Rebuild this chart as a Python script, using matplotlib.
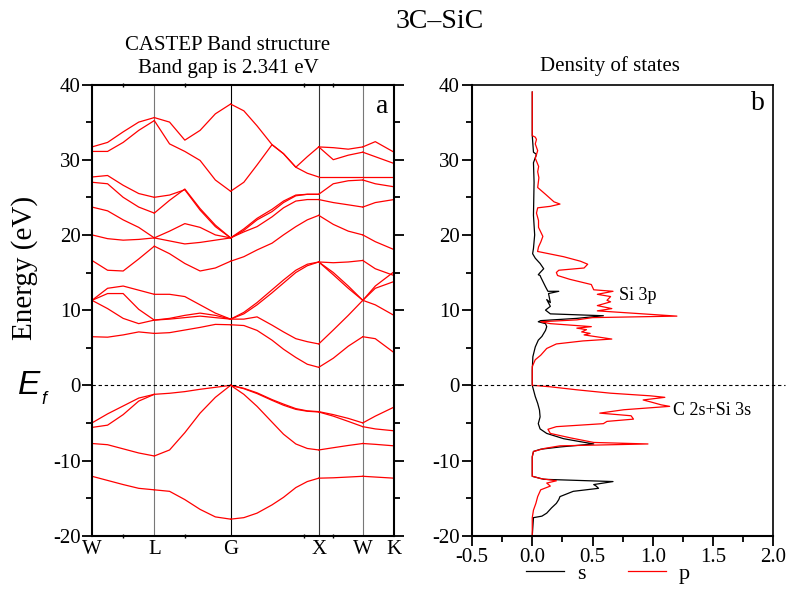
import numpy as np
import matplotlib
matplotlib.use("Agg")
import matplotlib.pyplot as plt
from matplotlib.ticker import MultipleLocator, FixedLocator

plt.rcParams['font.family'] = ['Liberation Serif', 'DejaVu Serif']
plt.rcParams['axes.unicode_minus'] = False

# high symmetry path W-L-G-X-W-K (distances in 2pi/a)
sym_labels = ['W', 'L', 'G', 'X', 'W', 'K']
sym_pos = [0.0, 0.707, 1.573, 2.573, 3.073, 3.427]

# bands read segment by segment: fractions along the segment, then one list per line
frac_WL = [0, .25, .5, .75, 1]
bands_WL = [
    [-12.1, -12.65, -13.2, -13.7, -13.9],
    [-7.74, -7.9, -8.45, -9.0, -9.4],
    [-5.0, -3.8, -2.75, -1.7, -1.2],
    [-5.6, -5.3, -3.9, -2.1, -1.2],
    [6.46, 6.4, 6.7, 7.1, 6.9],
    [11.3, 10.2, 8.9, 8.2, 8.67],
    [11.3, 12.2, 12.2, 10.1, 8.67],
    [11.3, 12.9, 13.2, 12.65, 12.1],
    [16.6, 15.3, 15.2, 16.8, 18.5],
    [20.0, 19.5, 19.3, 19.4, 19.6],
    [23.7, 23.2, 22.0, 21.0, 19.6],
    [27.0, 26.8, 25.0, 23.7, 22.9],
    [27.7, 27.9, 26.6, 25.5, 25.0],
    [31.1, 31.1, 32.3, 33.9, 35.2],
    [31.7, 32.3, 33.7, 35.0, 35.6],
]
frac_LG = [0, .2, .4, .6, .8, 1]
bands_LG = [
    [-13.9, -14.1, -15.2, -16.5, -17.5, -17.8],
    [-9.4, -8.6, -6.3, -3.7, -1.6, 0.0],
    [-1.2, -1.06, -0.84, -0.53, -0.27, 0.0],
    [6.9, 7.0, 7.35, 7.7, 8.1, 8.05],
    [8.67, 8.9, 9.3, 9.6, 9.3, 8.8],
    [8.67, 8.8, 9.0, 9.2, 9.0, 8.8],
    [12.1, 12.1, 11.8, 10.7, 9.6, 8.8],
    [18.5, 17.5, 16.2, 15.2, 15.6, 16.5],
    [19.6, 19.2, 18.8, 19.0, 19.3, 19.6],
    [19.6, 20.5, 21.5, 21.0, 20.0, 19.6],
    [22.9, 24.6, 26.1, 23.5, 21.3, 19.6],
    [25.0, 25.3, 26.0, 23.3, 21.1, 19.6],
    [35.2, 32.1, 31.1, 29.9, 27.3, 25.8],
    [35.6, 35.0, 32.6, 33.9, 36.1, 37.4],
]
frac_GX = [0, .15, .3, .47, .6, .74, .87, 1]
bands_GX = [
    [-17.8, -17.6, -17.0, -15.9, -14.9, -13.6, -12.8, -12.35],
    [0.0, -1.2, -2.8, -4.9, -6.5, -7.8, -8.4, -8.6],
    [0.0, -0.4, -1.0, -1.9, -2.5, -3.1, -3.4, -3.5],
    [0.0, -0.45, -1.1, -2.0, -2.65, -3.2, -3.45, -3.55],
    [8.05, 7.95, 7.3, 6.0, 4.8, 3.7, 2.8, 2.39],
    [8.8, 8.8, 9.1, 8.0, 7.1, 6.2, 5.8, 5.5],
    [8.8, 9.5, 10.7, 12.3, 13.6, 15.0, 15.9, 16.4],
    [8.8, 9.7, 11.0, 12.7, 14.0, 15.3, 16.1, 16.4],
    [16.5, 17.1, 18.0, 18.9, 20.0, 21.1, 22.0, 22.6],
    [19.6, 20.4, 21.1, 22.4, 23.6, 24.5, 24.7, 24.7],
    [19.6, 20.6, 22.0, 23.1, 24.3, 25.2, 25.4, 25.4],
    [19.6, 20.8, 22.2, 23.4, 24.5, 25.3, 25.4, 25.4],
    [25.8, 27.0, 29.3, 32.0, 30.8, 29.0, 28.2, 27.7],
    [37.4, 36.5, 34.5, 32.0, 30.8, 29.0, 30.4, 31.7],
]
frac_XW = [0, .33, .67, 1]
bands_XW = [
    [-12.35, -12.3, -12.2, -12.1],
    [-8.6, -8.3, -8.0, -7.74],
    [-3.5, -3.9, -4.4, -5.0],
    [-3.55, -4.1, -4.8, -5.5],
    [2.39, 3.6, 5.2, 6.46],
    [5.5, 7.35, 9.3, 11.3],
    [16.4, 14.7, 12.9, 11.3],
    [16.4, 15.0, 13.2, 11.3],
    [16.4, 16.3, 16.4, 16.6],
    [22.6, 21.4, 20.5, 20.0],
    [24.7, 24.3, 24.0, 23.7],
    [25.4, 26.8, 27.2, 27.3],
    [27.7, 27.7, 27.7, 27.7],
    [31.7, 30.0, 30.6, 31.0],
    [31.7, 31.6, 31.4, 31.7],
]
frac_WK = [0, .4, 1]
bands_WK = [
    [-12.1, -12.2, -12.35],
    [-7.74, -7.85, -8.05],
    [-5.0, -4.1, -2.9],
    [-5.5, -5.8, -6.05],
    [6.46, 6.2, 4.35],
    [11.3, 10.7, 9.3],
    [11.3, 12.9, 13.8],
    [11.3, 13.2, 15.1],
    [16.6, 15.5, 14.6],
    [20.0, 19.1, 18.05],
    [23.7, 24.3, 24.7],
    [27.3, 26.8, 26.4],
    [27.7, 27.7, 27.7],
    [31.0, 30.4, 29.5],
    [31.7, 32.4, 31.0],
]
segments = [(frac_WL, bands_WL), (frac_LG, bands_LG), (frac_GX, bands_GX),
            (frac_XW, bands_XW), (frac_WK, bands_WK)]

# partial DOS (energy in eV, states/eV)
s_E = [39.0, 33.2, 31.0, 30.7, 29.6, 27.0, 22.6, 20.0, 18.2, 17.5, 16.9, 16.2, 15.5, 14.9, 14.7, 14.6, 14.4, 13.1, 12.5, 12.5, 12.2, 11.0, 11.4,
       10.5, 10.0, 9.5, 9.25, 8.9, 8.6, 8.45, 8.2, 7.8, 7.3, 6.9, 6.5, 6.0, 5.1, 3.8, 2.0, 0.0, -1.5, -2.4, -3.3, -4.2, -5.1, -5.8, -6.4,
       -7.1, -7.5, -7.8, -8.2, -8.5, -8.8, -9.5, -12.1, -12.5, -12.8, -13.2, -13.4, -13.7, -14.1, -14.8, -15.2, -15.7, -16.3, -17.0, -17.4, -17.6, -20.0]
s_v = [0.0, 0.0, 0.01, 0.035, 0.01, 0.015, 0.01, 0.02, 0.01, 0.003, 0.025, 0.065, 0.095, 0.06, 0.05, 0.065, 0.07, 0.11, 0.13, 0.22, 0.135, 0.15, 0.12,
       0.15, 0.11, 0.15, 0.59, 0.37, 0.07, 0.05, 0.11, 0.12, 0.11, 0.095, 0.08, 0.05, 0.025, 0.005, 0.0, 0.0, 0.025, 0.045, 0.06, 0.065, 0.05, 0.065, 0.12,
       0.26, 0.4, 0.51, 0.23, 0.07, 0.01, 0.0, 0.0, 0.095, 0.67, 0.51, 0.53, 0.55, 0.34, 0.23, 0.22, 0.2, 0.16, 0.12, 0.08, 0.01, 0.0]
p_E = [39.0, 33.2, 33.0, 32.7, 32.1, 31.2, 30.2, 29.1, 28.4, 27.6, 26.3, 25.4, 24.4, 24.1, 23.8, 23.6, 22.9, 21.9, 21.0, 19.8, 19.1, 18.4,
       17.8, 17.1, 16.5, 16.1, 15.6, 15.3, 15.0, 14.6, 14.1, 13.4, 12.7, 12.5, 12.1, 11.8, 11.3, 11.1, 10.6, 10.2, 9.9, 9.2, 9.0, 8.7, 8.45,
       8.2, 7.8, 7.6, 7.4, 7.1, 6.9, 6.7, 6.15, 5.9, 5.5, 4.9, 4.0, 3.4, 2.5, 0.0, -0.2, -0.6, -1.05, -1.4, -1.6, -1.95, -2.2, -2.6, -2.8,
       -3.25, -3.7, -4.05, -4.5, -4.8, -5.1, -5.5, -5.85, -6.4, -7.0, -7.6, -7.8, -8.05, -8.4, -8.8, -9.5, -12.1, -12.4, -12.7, -13.0, -13.4, -13.9,
       -14.8, -15.7, -16.6, -17.6, -20.0]
p_v = [0.0, 0.0, 0.025, 0.035, 0.025, 0.045, 0.025, 0.053, 0.045, 0.055, 0.045, 0.11, 0.18, 0.23, 0.15, 0.045, 0.035, 0.052, 0.052, 0.088, 0.072, 0.052,
       0.044, 0.26, 0.4, 0.46, 0.43, 0.22, 0.2, 0.21, 0.31, 0.49, 0.51, 0.67, 0.54, 0.65, 0.62, 0.65, 0.54, 0.66, 0.54, 1.2, 0.5, 0.37, 0.07,
       0.15, 0.49, 0.37, 0.45, 0.41, 0.48, 0.43, 0.66, 0.42, 0.2, 0.12, 0.07, 0.025, 0.0, 0.0, 0.15, 0.37, 0.65, 0.98, 1.1, 0.92, 0.98, 1.07, 1.14,
       0.76, 0.56, 0.82, 0.84, 0.62, 0.59, 0.2, 0.13, 0.15, 0.32, 0.51, 0.96, 0.23, 0.1, 0.01, 0.0, 0.0, 0.07, 0.2, 0.12, 0.15, 0.07,
       0.045, 0.03, 0.01, 0.0, 0.0]

fig = plt.figure(figsize=(7.92, 5.89), dpi=100)
ax1 = fig.add_axes([92 / 792, 53.3 / 589, 302 / 792, 451.2 / 589])
ax2 = fig.add_axes([472 / 792, 53.3 / 589, 301.3 / 792, 451.2 / 589])

for i, (fr, bands) in enumerate(segments):
    a, b = sym_pos[i], sym_pos[i + 1]
    k = a + np.array(fr) * (b - a)
    for band in bands:
        ax1.plot(k, band, color='red', lw=0.9)

vcol = ['#777777', 'black', '#333333', '#777777']
for x, c in zip(sym_pos[1:5], vcol):
    ax1.axvline(x, color=c, lw=0.8, zorder=0)

ax1.axhline(0, color='black', lw=0.8, ls=(0, (3, 2.5)), xmax=1.03, clip_on=False)
ax1.set_xlim(0, sym_pos[-1])
ax1.set_ylim(-20, 40)
ax1.set_xticks(sym_pos)
ax1.set_xticklabels(sym_labels, fontsize=15)
ax1.xaxis.set_minor_locator(FixedLocator([0.355, 1.055, 2.406, 2.738]))
ax1.tick_params(axis='x', which='major', length=0, pad=3)
ax1.tick_params(axis='x', which='minor', length=3, width=1, top=True, direction='inout')
ax1.yaxis.set_major_locator(MultipleLocator(10))
ax1.yaxis.set_minor_locator(MultipleLocator(5))
ax1.tick_params(axis='y', which='both', right=True, direction='out', labelsize=15, width=1.3, pad=1)
ax1.tick_params(axis='y', which='major', length=7)
ax1.tick_params(axis='y', which='minor', length=4)
for sp in ax1.spines.values():
    sp.set_linewidth(1.5)
ax1.text(0.96, 0.937, 'a', transform=ax1.transAxes, ha='center', va='baseline', fontsize=20)

ax2.plot(s_v, s_E, color='black', lw=0.9, label='s')
ax2.plot(p_v, p_E, color='red', lw=0.9, label='p')
ax2.axhline(0, color='black', lw=0.8, ls=(0, (3, 2.5)), xmax=1.04, clip_on=False)
ax2.set_xlim(-0.5, 2.0)
ax2.set_ylim(-20, 40)
ax2.xaxis.set_major_locator(MultipleLocator(0.5))
ax2.xaxis.set_minor_locator(MultipleLocator(0.25))
ax2.yaxis.set_major_locator(MultipleLocator(10))
ax2.yaxis.set_minor_locator(MultipleLocator(5))
ax2.tick_params(which='both', direction='out', labelsize=15, width=1.3, pad=2)
ax2.tick_params(which='major', length=7)
ax2.tick_params(which='minor', length=4)
for sp in ax2.spines.values():
    sp.set_linewidth(1.5)
ax2.spines['top'].set_linewidth(1.2)
ax2.spines['right'].set_linewidth(1.2)
ax2.text(0.949, 0.943, 'b', transform=ax2.transAxes, ha='center', va='baseline', fontsize=20)
ax2.text(0.72, 11.9, 'Si 3p', fontsize=13, va='center')
ax2.text(1.17, -3.3, 'C 2s+Si 3s', fontsize=13, va='center')
fig.legend(*ax2.get_legend_handles_labels(), loc='center', bbox_to_anchor=(608 / 792, 1 - 574 / 589),
           ncol=2, frameon=False, fontsize=16, handlelength=1.7, columnspacing=1.9, handletextpad=0.6,
           borderpad=0, borderaxespad=0)

fig.text(440 / 792, 1 - 22 / 589, '3C\u2013SiC', ha='center', va='center', fontsize=20)
fig.text(228 / 792, 1 - 45 / 589, 'CASTEP Band structure', ha='center', va='center', fontsize=15)
fig.text(228 / 792, 1 - 68 / 589, 'Band gap is 2.341 eV', ha='center', va='center', fontsize=15)
fig.text(610 / 792, 1 - 66 / 589, 'Density of states', ha='center', va='center', fontsize=15)
fig.text(25 / 792, 1 - 268 / 589, 'Energy (eV)', rotation=90, ha='center', va='center', fontsize=21)
fig.text(18 / 792, 1 - 385 / 589, 'E', family='Liberation Sans', style='italic', fontsize=24, va='center')
fig.text(41 / 792, 1 - 400 / 589, 'f', family='Liberation Sans', style='italic', fontsize=13, va='center')

fig.savefig('out.png', dpi=100)
